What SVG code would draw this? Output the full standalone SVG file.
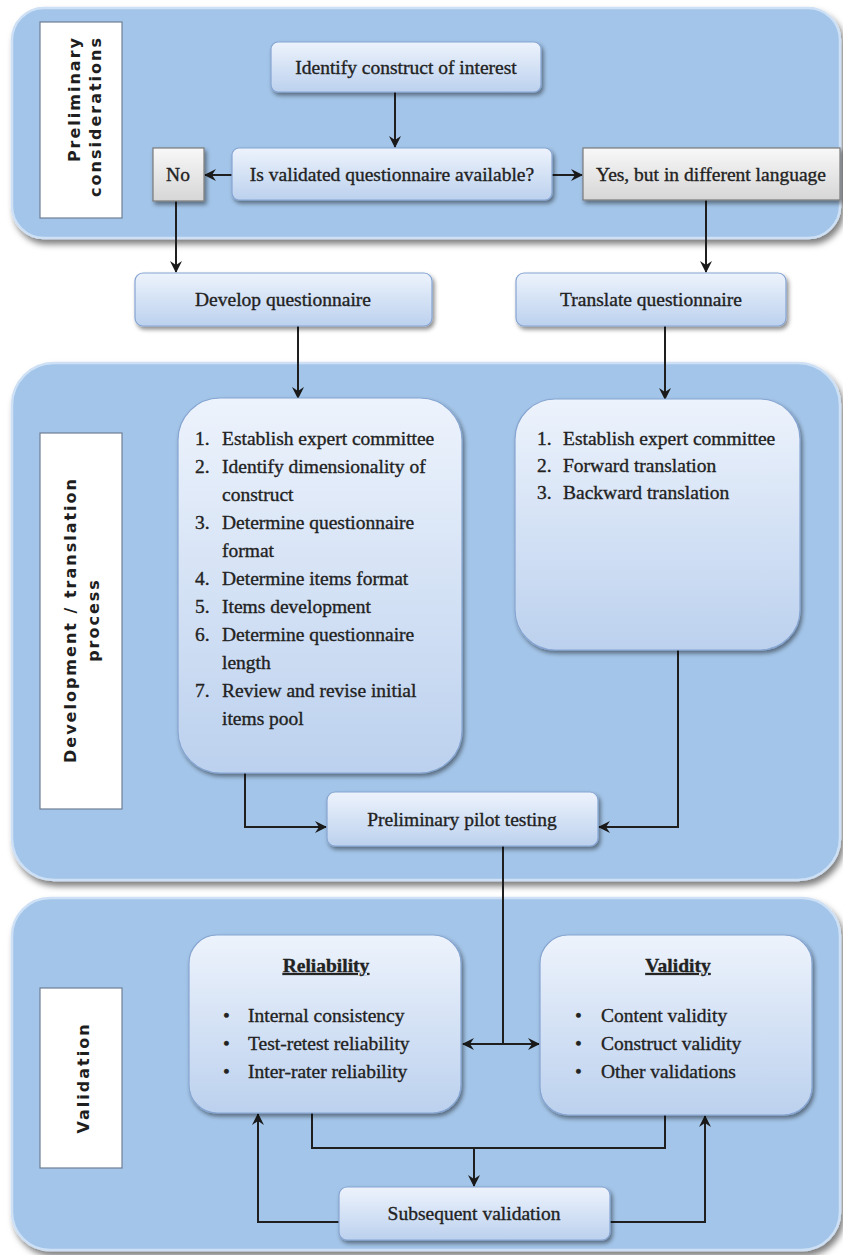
<svg xmlns="http://www.w3.org/2000/svg" width="843" height="1255" viewBox="0 0 843 1255">
  <defs>
    <linearGradient id="nodeFill" x1="0" y1="0" x2="0" y2="1">
      <stop offset="0" stop-color="#edf3fc"/>
      <stop offset="1" stop-color="#bcd1ee"/>
    </linearGradient>
    <linearGradient id="grayFill" x1="0" y1="0" x2="0" y2="1">
      <stop offset="0" stop-color="#f8f8f8"/>
      <stop offset="1" stop-color="#d6d6d6"/>
    </linearGradient>
    <filter id="shadow" x="-10%" y="-10%" width="130%" height="140%">
      <feDropShadow dx="2" dy="3" stdDeviation="2" flood-color="#000" flood-opacity="0.45"/>
    </filter>
    <filter id="panelShadow" x="-5%" y="-5%" width="115%" height="120%">
      <feDropShadow dx="3" dy="5" stdDeviation="3" flood-color="#000" flood-opacity="0.5"/>
    </filter>
    <marker id="arrow" markerUnits="userSpaceOnUse" markerWidth="14" markerHeight="14" viewBox="0 0 14 14" refX="12" refY="7" orient="auto-start-reverse">
      <path d="M1,1 L13,7 L1,13 L5,7 Z" fill="#1a1a1a"/>
    </marker>
    <style>
      .panel { fill: #a3c5e9; stroke: #cde0f5; stroke-width: 2.5; filter: url(#panelShadow); }
      .label { fill: #ffffff; stroke: #6f7f95; stroke-width: 1.2; }
      .node { fill: url(#nodeFill); stroke: #86a5d2; stroke-width: 1.2; filter: url(#shadow); }
      .gray { fill: url(#grayFill); stroke: #7a7a7a; stroke-width: 1.2; filter: url(#shadow); }
      .t { font-family: "Liberation Serif", "Times New Roman", serif; font-size: 19.5px; fill: #222222; stroke: #222222; stroke-width: 0.35px; }
      .c { text-anchor: middle; }
      .h { font-weight: bold; text-decoration: underline; }
      .v { font-family: "DejaVu Sans", Verdana, sans-serif; font-size: 16px; font-weight: bold; letter-spacing: 2px; fill: #1e1e1e; text-anchor: middle; }
      .conn path { fill: none; stroke: #1f1f1f; stroke-width: 2; }
    </style>
  </defs>

  <!-- section panels -->
  <g id="panel-preliminary">
    <rect class="panel" x="12" y="8" width="828" height="230" rx="32"/>
    <rect class="label" x="40" y="22" width="82" height="196"/>
    <text class="v" style="text-anchor:end" transform="translate(80,36) rotate(-90)">Preliminary</text>
    <text class="v" style="text-anchor:end" transform="translate(101,36) rotate(-90)">considerations</text>
  </g>
  <g id="panel-development">
    <rect class="panel" x="12" y="363" width="828" height="517" rx="42"/>
    <rect class="label" x="40" y="433" width="82" height="376"/>
    <text class="v" transform="translate(76,620) rotate(-90)">Development / translation</text>
    <text class="v" transform="translate(99,620) rotate(-90)">process</text>
  </g>
  <g id="panel-validation">
    <rect class="panel" x="12" y="898" width="828" height="352" rx="38"/>
    <rect class="label" x="40" y="988" width="82" height="180"/>
    <text class="v" transform="translate(89,1078) rotate(-90)">Validation</text>
  </g>

  <!-- connectors -->
  <g id="connectors" class="conn">
    <path d="M395,92 V147" marker-end="url(#arrow)"/>
    <path d="M232,175 H205" marker-end="url(#arrow)"/>
    <path d="M552,175 H582" marker-end="url(#arrow)"/>
    <path d="M176,201 V272" marker-end="url(#arrow)"/>
    <path d="M706,200 V272" marker-end="url(#arrow)"/>
    <path d="M298,326 V398" marker-end="url(#arrow)"/>
    <path d="M665,326 V399" marker-end="url(#arrow)"/>
    <path d="M245,773 V827 H326" marker-end="url(#arrow)"/>
    <path d="M678,650 V827 H599" marker-end="url(#arrow)"/>
    <path d="M503,846 V1044"/>
    <path d="M463,1044 H539" marker-start="url(#arrow)" marker-end="url(#arrow)"/>
    <path d="M312,1113 V1148 H665 V1115"/>
    <path d="M474,1148 V1186" marker-end="url(#arrow)"/>
    <path d="M339,1222 H258 V1114" marker-end="url(#arrow)"/>
    <path d="M610,1222 H705 V1116" marker-end="url(#arrow)"/>
  </g>

  <!-- nodes -->
  <g id="identify-construct">
    <rect class="node" x="271" y="42" width="270" height="50" rx="7"/>
    <text class="t c" x="406" y="74">Identify construct of interest</text>
  </g>
  <g id="questionnaire-available">
    <rect class="node" x="232" y="148" width="320" height="52" rx="7"/>
    <text class="t c" x="392" y="181">Is validated questionnaire available?</text>
  </g>
  <g id="answer-no">
    <rect class="gray" x="153" y="148" width="51" height="53"/>
    <text class="t c" x="178" y="181">No</text>
  </g>
  <g id="answer-yes">
    <rect class="gray" x="583" y="148" width="257" height="52"/>
    <text class="t c" x="711" y="181">Yes, but in different language</text>
  </g>
  <g id="develop-questionnaire">
    <rect class="node" x="135" y="273" width="297" height="53" rx="8"/>
    <text class="t c" x="283" y="306">Develop questionnaire</text>
  </g>
  <g id="translate-questionnaire">
    <rect class="node" x="516" y="273" width="270" height="53" rx="8"/>
    <text class="t c" x="651" y="306">Translate questionnaire</text>
  </g>
  <g id="development-steps">
    <rect class="node" x="178" y="398" width="284" height="375" rx="42"/>
    <text class="t">
      <tspan x="195" y="445">1.</tspan><tspan x="222" y="445">Establish expert committee</tspan>
      <tspan x="195" y="473">2.</tspan><tspan x="222" y="473">Identify dimensionality of</tspan>
      <tspan x="222" y="501">construct</tspan>
      <tspan x="195" y="529">3.</tspan><tspan x="222" y="529">Determine questionnaire</tspan>
      <tspan x="222" y="557">format</tspan>
      <tspan x="195" y="585">4.</tspan><tspan x="222" y="585">Determine items format</tspan>
      <tspan x="195" y="613">5.</tspan><tspan x="222" y="613">Items development</tspan>
      <tspan x="195" y="641">6.</tspan><tspan x="222" y="641">Determine questionnaire</tspan>
      <tspan x="222" y="669">length</tspan>
      <tspan x="195" y="697">7.</tspan><tspan x="222" y="697">Review and revise initial</tspan>
      <tspan x="222" y="725">items pool</tspan>
    </text>
  </g>
  <g id="translation-steps">
    <rect class="node" x="515" y="399" width="285" height="251" rx="40"/>
    <text class="t">
      <tspan x="537" y="445">1.</tspan><tspan x="563" y="445">Establish expert committee</tspan>
      <tspan x="537" y="472">2.</tspan><tspan x="563" y="472">Forward translation</tspan>
      <tspan x="537" y="499">3.</tspan><tspan x="563" y="499">Backward translation</tspan>
    </text>
  </g>
  <g id="pilot-testing">
    <rect class="node" x="327" y="792" width="271" height="54" rx="8"/>
    <text class="t c" x="462" y="826">Preliminary pilot testing</text>
  </g>
  <g id="reliability">
    <rect class="node" x="189" y="935" width="272" height="178" rx="28"/>
    <text class="t c h" x="326" y="972">Reliability</text>
    <text class="t">
      <tspan x="223" y="1022">•</tspan><tspan x="248" y="1022">Internal consistency</tspan>
      <tspan x="223" y="1050">•</tspan><tspan x="248" y="1050">Test-retest reliability</tspan>
      <tspan x="223" y="1078">•</tspan><tspan x="248" y="1078">Inter-rater reliability</tspan>
    </text>
  </g>
  <g id="validity">
    <rect class="node" x="540" y="935" width="272" height="180" rx="28"/>
    <text class="t c h" x="678" y="972">Validity</text>
    <text class="t">
      <tspan x="575" y="1022">•</tspan><tspan x="601" y="1022">Content validity</tspan>
      <tspan x="575" y="1050">•</tspan><tspan x="601" y="1050">Construct validity</tspan>
      <tspan x="575" y="1078">•</tspan><tspan x="601" y="1078">Other validations</tspan>
    </text>
  </g>
  <g id="subsequent-validation">
    <rect class="node" x="339" y="1187" width="271" height="53" rx="8"/>
    <text class="t c" x="474" y="1220">Subsequent validation</text>
  </g>
</svg>
